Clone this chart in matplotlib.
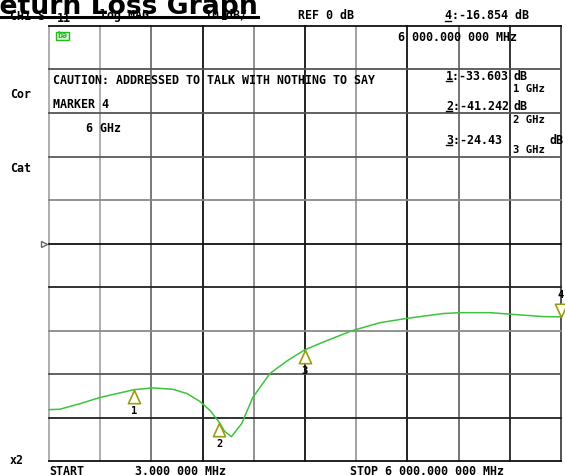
import matplotlib
matplotlib.use("Agg")
import matplotlib.pyplot as plt
from matplotlib.lines import Line2D
from matplotlib.patches import Rectangle
import numpy as np

# ---------------- data ----------------
freq_ghz = [0.003, 0.13, 0.37, 0.60, 0.80, 1.00, 1.22, 1.45, 1.62, 1.77, 1.89, 2.00,
            2.06, 2.14, 2.26, 2.39, 2.59, 2.79, 3.00, 3.26, 3.56, 3.88, 4.20, 4.62,
            4.82, 5.17, 5.44, 5.79, 6.00]
trace_db = [-38.2, -38.1, -36.8, -35.4, -34.5, -33.6, -33.2, -33.5, -34.5, -36.3, -38.4, -41.2,
            -43.2, -44.4, -41.4, -35.4, -29.9, -27.0, -24.43, -22.3, -20.0, -18.2, -17.2, -16.1,
            -15.9, -15.9, -16.3, -16.8, -16.854]
marker_ids = ["1", "2", "3", "4"]
marker_ghz = [1.0, 2.0, 3.0, 6.0]
marker_db = [-33.603, -41.242, -24.43, -16.854]
start_mhz = 3.0
stop_mhz = 6000.0
ref_db = 0.0
db_per_div = 10
n_div = 10

W, H = 565, 475
fig = plt.figure(figsize=(W / 100, H / 100), dpi=100)
fig.patch.set_facecolor("white")

L, R, T, B = 49, 561, 26, 461
ax = fig.add_axes([L / W, 1 - B / H, (R - L) / W, (B - T) / H])
ax.set_xlim(start_mhz, stop_mhz)
ax.set_ylim(ref_db - db_per_div * n_div / 2, ref_db + db_per_div * n_div / 2)
ax.set_xticks([])
ax.set_yticks([])
for s in ax.spines.values():
    s.set_visible(False)

# grid lines (including borders)
vcols = ["#a8a8a8", "#a8a8a8", "#6e6e6e", "#111111", "#8a8a8a", "#111111",
         "#9a9a9a", "#111111", "#6a6a6a", "#222222", "#444444"]
hcols = ["#111111", "#555555", "#555555", "#5a5a5a", "#8a8a8a", "#111111",
         "#222222", "#8a8a8a", "#555555", "#222222", "#111111"]  # top to bottom
xs = np.linspace(start_mhz, stop_mhz, n_div + 1)
ys = np.linspace(ref_db + db_per_div * n_div / 2, ref_db - db_per_div * n_div / 2, n_div + 1)
for x, c in zip(xs, vcols):
    ax.axvline(x, color=c, lw=1.3, zorder=1, clip_on=False)
for y, c in zip(ys, hcols):
    ax.axhline(y, color=c, lw=1.3, zorder=1, clip_on=False)

# trace
fx = np.array(freq_ghz) * 1000
ax.plot(fx, trace_db, color="#3cc43c", lw=1.1, zorder=3, clip_on=False)

# markers
mono = "DejaVu Sans Mono"
up_tri = [(0, 0), (-0.46, -1), (0.46, -1), (0, 0)]
dn_tri = [(0, 0), (-0.46, 1), (0.46, 1), (0, 0)]
for i, (mid, mg, md) in enumerate(zip(marker_ids, marker_ghz, marker_db)):
    active = (i == len(marker_ids) - 1)
    ax.plot([mg * 1000], [md], marker=dn_tri if active else up_tri, markersize=19,
            markerfacecolor="#fffff2", markeredgecolor="#9c9a1c", markeredgewidth=1.2,
            zorder=4, clip_on=False, linestyle="none")
    ax.annotate(mid, (mg * 1000, md), xytext=(0, 16 if active else -15),
                textcoords="offset points", ha="center", va="center",
                fontsize=7.5, family=mono, fontweight="bold", color="black",
                annotation_clip=False, zorder=5)

# reference position arrow
ax.plot([-5.5 / (R - L)], [ref_db], transform=ax.get_yaxis_transform(), marker=">",
        markersize=4.5, markerfacecolor="white", markeredgecolor="#666666",
        markeredgewidth=1, clip_on=False, linestyle="none")


def ftext(x, y, s, **kw):
    opts = dict(fontsize=8.4, family=mono, fontweight="bold", color="black",
                ha="left", va="center")
    opts.update(kw)
    return fig.text(x / W, 1 - y / H, s, **opts)


def uline(x0, x1, y, lw=1.0, color="black"):
    fig.add_artist(Line2D([x0 / W, x1 / W], [1 - y / H, 1 - y / H],
                          color=color, lw=lw, transform=fig.transFigure))


# header small text (partly hidden by title)
ftext(10, 16.5, "CH1 S", zorder=1)
ftext(57, 19, "11", zorder=1)
ftext(100, 15.5, "log MAG", zorder=1)
ftext(205, 15.5, "10 dB/", zorder=1)
ftext(298, 15.5, "REF 0 dB")
ftext(445, 15.5, "4:-16.854 dB")
uline(445, 451, 20.5)

# title
fig.text(258 / W, 1 - 14 / H, "Return Loss Graph", fontsize=19.2, fontweight="bold",
         family="DejaVu Sans", ha="right", va="baseline", color="black", zorder=5)
uline(0, 258, 16.5, lw=2.2)

# green status icon
fig.add_artist(Rectangle((56 / W, 1 - 40 / H), 13 / W, 8 / H, transform=fig.transFigure,
                         facecolor="#d8f5d8", edgecolor="#22bb22", lw=1.0))
ftext(57, 36, "bə", fontsize=6, color="#22bb22")

ftext(398, 37.5, "6 000.000 000 MHz")
ftext(53, 81, "CAUTION: ADDRESSED TO TALK WITH NOTHING TO SAY")
ftext(53, 105, "MARKER 4")
ftext(86, 128.5, "6 GHz")
ftext(10, 94.5, "Cor")
ftext(10, 168.5, "Cat")

ftext(446, 76.5, "1:-33.603")
uline(446, 452, 81)
ftext(513, 76.5, "dB")
ftext(513, 88.5, "1 GHz", fontsize=7.6)
ftext(446, 106, "2:-41.242")
uline(446, 452, 110.5)
ftext(513, 106, "dB")
ftext(513, 119.5, "2 GHz", fontsize=7.6)
ftext(446, 140, "3:-24.43")
uline(446, 452, 144.5)
ftext(549, 140, "dB")
ftext(513, 150, "3 GHz", fontsize=7.6)

ftext(10, 460.5, "x2")
ftext(49, 471.5, "START")
ftext(135, 471.5, "3.000 000 MHz")
ftext(350, 471.5, "STOP 6 000.000 000 MHz")

fig.savefig("out.png", dpi=100, facecolor="white")
